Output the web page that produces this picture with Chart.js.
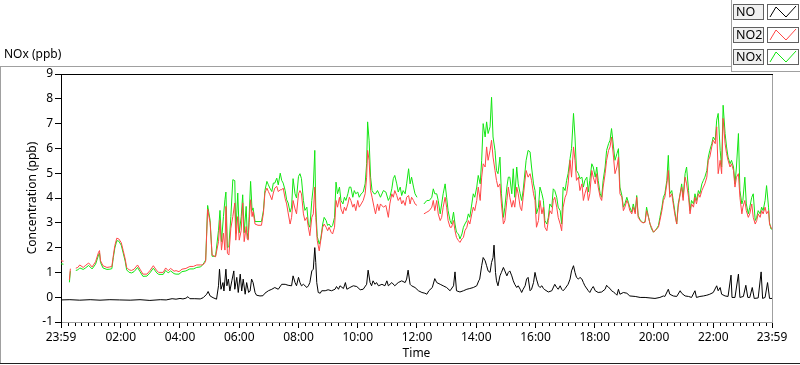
<!DOCTYPE html>
<html><head><meta charset="utf-8">
<script src="https://cdn.jsdelivr.net/npm/chart.js@4.4.1/dist/chart.umd.min.js"></script>
<style>
html,body{margin:0;padding:0;background:#fff;}
#wrap{position:relative;width:800px;height:365px;overflow:hidden;font-family:'Noto Sans',sans-serif;color:#000;}
#c{position:absolute;left:0;top:0;}
.ln{position:absolute;}
.title{position:absolute;left:4px;top:47px;font-size:12px;line-height:14px;}
.lab{position:absolute;left:733px;width:27px;height:14px;border:1px solid #606060;background:#f0f0f0;font-size:12.5px;line-height:14px;padding-left:2px;}
.smp{position:absolute;left:767px;width:30px;height:14px;border:1px solid #606060;background:#fff;}
.smp svg{display:block;}
</style></head>
<body>
<div id="wrap">
<canvas id="c" width="800" height="365"></canvas>
<div class="title">NOx (ppb)</div>
<div class="ln" style="left:0;top:66px;width:731px;height:1px;background:#a0a0a0"></div>
<div class="ln" style="left:0;top:66px;width:1px;height:297px;background:#a0a0a0"></div>
<div class="ln" style="left:0;top:363px;width:800px;height:1px;background:#202020"></div>
<div class="ln" style="left:731px;top:0;width:1px;height:72px;background:#a0a0a0"></div>
<div class="ln" style="left:731px;top:71px;width:69px;height:1px;background:#a0a0a0"></div>
<div id="legend"></div>
</div>
<script>
// ---- data (minutes after 23:59 start) ----
const timeMin = [0,5,8,17,19,23,30,34,38,45,49,56,63,70,76,78,80,85,93,99,103,106,109,113,117,122,126,130,133,138,143,148,155,160,166,174,180,187,194,198,207,212,217,222,229,233,239,245,253,261,268,275,282,286,290,293,297,302,306,313,319,322,325,329,332,334,337,340,344,348,352,354,358,361,365,368,371,375,377,379,381,384,387,389,393,399,406,410,413,417,420,423,427,430,433,437,440,444,447,450,454,457,460,464,467,470,474,477,481,484,487,491,494,498,501,504,508,511,514,516,519,523,526,530,533,537,540,543,547,550,554,557,560,564,567,571,574,577,581,584,587,591,594,597,601,604,608,612,616,619,621,624,627,630,634,637,641,644,647,653,658,663,666,670,673,676,680,683,687,690,693,697,700,704,707,710,714,717,721,726,735,741,746,751,754,757,761,764,768,771,774,778,781,784,788,791,795,798,801,805,808,812,815,818,822,825,828,832,835,838,842,845,849,852,855,859,862,865,869,872,875,879,882,885,889,892,896,899,903,906,909,913,916,919,923,926,930,933,936,942,946,950,953,957,960,963,967,970,974,977,980,984,987,990,994,997,1000,1004,1007,1011,1014,1017,1021,1024,1027,1031,1034,1038,1041,1044,1048,1051,1055,1058,1061,1065,1068,1071,1075,1078,1082,1085,1088,1092,1095,1098,1102,1105,1109,1112,1115,1119,1122,1126,1129,1132,1136,1139,1142,1146,1149,1152,1156,1159,1163,1166,1169,1173,1176,1179,1183,1186,1190,1193,1196,1200,1203,1206,1210,1213,1217,1220,1223,1227,1230,1233,1237,1240,1243,1247,1250,1254,1257,1260,1264,1267,1271,1274,1277,1281,1284,1287,1291,1294,1298,1301,1304,1308,1311,1314,1318,1321,1325,1328,1331,1335,1338,1341,1345,1348,1351,1355,1358,1362,1365,1368,1372,1375,1379,1381,1385,1388,1392,1395,1399,1402,1406,1409,1412,1416,1419,1422,1426,1429,1433,1435,1438,1440];
const no2Vals = [1.47,1.45,null,0.7,1.15,null,1.17,1.2,1.3,1.2,1.27,1.38,1.22,1.43,1.81,1.88,1.47,1.27,1.2,1.22,1.24,1.68,2.08,2.38,2.35,2.2,1.88,1.54,1.2,1.1,1.08,1.13,1.3,1.13,0.93,0.93,1.07,1.27,1.07,1.0,1.0,1.18,1.07,1.16,1.05,1.07,1.03,1.13,1.16,1.24,1.24,1.3,1.3,1.3,1.35,1.45,3.55,3.0,1.7,1.63,2.24,3.1,1.9,2.58,1.9,3.66,1.77,1.7,2.78,3.25,3.8,2.3,3.25,2.3,2.7,3.8,2.24,2.85,2.37,2.3,3.0,3.93,3.25,3.45,2.95,2.9,2.9,3.4,4.2,4.4,4.26,4.13,3.93,4.2,4.4,4.47,4.26,4.33,4.33,4.4,3.97,3.76,3.4,2.95,3.22,3.9,3.56,3.36,4.17,4.3,4.17,3.36,3.09,3.22,2.82,2.48,3.22,3.36,4.44,3.22,2.28,1.87,2.28,2.82,2.95,2.82,2.68,2.82,2.62,2.55,2.82,3.9,3.63,4.03,3.56,3.36,3.63,3.49,3.76,4.03,3.9,3.63,3.76,3.49,3.9,3.63,3.76,3.9,4.17,4.84,5.92,5.52,4.3,4.03,3.63,3.36,3.76,3.49,3.76,3.63,3.7,3.22,3.76,4.17,4.03,4.3,4.1,3.9,4.03,3.76,3.9,3.7,4.03,4.1,3.76,4.03,3.9,3.76,3.7,null,3.36,3.43,3.49,3.63,3.9,3.49,3.9,3.36,3.09,3.22,3.63,4.03,3.63,3.09,2.82,2.82,3.09,2.68,2.41,2.28,2.21,2.35,2.41,2.68,2.82,3.09,2.95,3.36,3.63,3.49,3.9,4.44,3.9,4.84,5.38,5.25,6.06,5.52,5.92,6.33,5.65,5.11,4.71,4.44,4.57,3.76,2.95,3.09,3.9,4.44,4.03,3.63,3.9,3.63,4.44,4.17,3.63,3.49,4.03,5.11,4.84,4.98,4.71,4.17,3.9,2.82,3.09,3.9,3.36,3.63,2.82,2.68,3.09,3.49,3.36,3.9,4.03,3.63,3.22,2.95,2.68,3.63,4.03,4.17,4.57,5.52,4.84,6.06,5.52,4.71,4.84,4.3,4.57,3.9,4.17,4.44,3.9,4.17,5.11,4.84,4.57,4.98,4.44,4.03,3.9,4.44,4.98,5.52,5.92,6.06,6.46,5.65,4.98,5.25,5.65,4.17,4.03,3.49,3.63,3.9,3.76,3.49,3.36,3.63,3.36,4.03,3.22,3.09,3.02,3.0,3.02,3.49,3.22,2.95,2.82,2.62,2.68,2.75,2.82,3.09,3.49,3.9,4.03,4.57,5.11,4.03,4.17,3.76,3.36,2.95,3.63,4.17,4.44,3.9,4.84,4.57,4.03,3.36,3.76,3.63,4.03,3.76,4.17,4.03,4.3,4.44,4.57,4.84,5.52,5.65,6.06,6.33,6.19,6.87,4.98,5.52,4.98,7.21,6.19,5.79,5.52,5.25,5.38,5.11,4.44,4.84,4.98,4.03,3.36,3.63,3.9,3.49,3.22,3.36,3.76,3.22,2.95,3.09,3.36,3.22,3.49,3.36,3.63,3.36,3.49,2.95,2.82,2.75];
const noxVals = [1.35,1.33,null,0.6,1.05,null,1.08,1.1,1.18,1.12,1.17,1.28,1.14,1.33,1.7,1.78,1.4,1.18,1.12,1.13,1.15,1.6,1.98,2.28,2.26,2.1,1.78,1.45,1.1,1.0,0.98,1.03,1.2,1.03,0.84,0.85,0.98,1.17,0.98,0.92,0.92,1.08,0.98,1.06,0.95,0.93,0.93,1.03,1.06,1.14,1.14,1.2,1.22,1.28,1.4,1.5,3.7,3.1,1.65,1.65,2.7,3.5,2.24,3.25,3.93,4.24,2.0,2.04,3.25,4.74,4.7,2.57,4.2,2.6,3.25,4.13,2.6,3.66,2.6,2.35,3.25,4.67,3.5,3.6,3.05,3.05,3.05,3.5,4.3,4.67,4.53,4.4,4.26,4.6,4.6,4.8,4.53,5.0,4.71,4.6,4.3,3.93,3.8,3.43,3.63,4.78,4.17,4.0,4.87,4.98,4.78,3.9,3.5,3.63,2.95,2.82,3.9,4.44,5.92,3.63,2.45,2.14,2.35,2.95,3.22,3.09,2.89,2.95,2.82,2.89,3.22,4.64,4.17,4.44,3.9,3.76,4.03,3.9,4.17,4.44,4.44,4.03,4.3,4.17,4.24,4.03,4.17,4.24,4.57,5.38,7.07,6.33,4.84,4.3,4.17,4.17,4.3,4.17,4.03,4.3,4.24,3.9,4.03,4.37,4.78,4.91,4.57,4.24,4.44,4.1,4.3,4.17,4.57,5.18,4.57,4.84,4.44,4.17,4.03,null,3.76,3.9,3.9,4.03,4.37,4.17,4.17,3.9,3.36,3.76,4.17,4.57,4.03,3.49,3.09,2.95,3.43,2.95,2.62,2.55,2.35,2.55,2.82,2.95,3.09,3.36,3.22,3.76,4.17,4.03,4.44,4.91,4.57,5.52,7.0,6.46,7.07,6.6,6.87,8.06,6.46,5.92,5.11,4.98,5.65,4.17,3.22,3.63,4.44,4.84,4.84,4.17,5.18,4.03,5.25,4.57,4.17,3.9,4.3,5.52,5.92,5.86,5.25,4.57,4.3,3.36,3.63,4.44,4.17,3.9,3.09,2.95,3.22,3.76,3.63,4.37,4.3,4.03,3.63,3.49,2.95,4.44,4.3,4.71,4.98,5.59,5.99,7.41,6.46,5.11,4.98,4.78,4.84,4.44,4.71,4.84,4.24,4.71,5.38,5.25,4.84,5.25,4.71,4.17,4.03,4.71,5.25,5.92,6.19,6.33,6.8,6.06,5.52,5.79,5.99,4.44,4.1,3.63,3.76,4.03,3.83,3.63,3.43,3.76,3.43,4.1,3.29,3.12,3.05,3.0,3.05,3.63,3.22,2.95,2.75,2.62,2.68,2.75,2.89,3.22,3.63,4.03,4.17,4.71,5.72,4.17,4.3,3.9,3.49,2.95,3.76,4.17,4.57,4.03,4.98,5.25,4.3,3.49,3.9,3.76,4.17,3.9,4.3,4.17,4.57,4.71,4.84,5.11,5.65,5.92,6.19,6.46,6.33,7.14,7.41,5.92,5.25,7.74,6.6,6.06,5.65,5.38,5.52,5.25,4.57,5.25,6.6,4.3,3.76,3.9,4.84,3.76,3.36,3.63,4.03,4.17,3.09,3.22,3.49,3.36,3.63,3.49,3.9,4.5,3.63,3.0,2.75,2.75];
const noTime = [0,18,38,59,79,99,119,140,160,180,201,213,225,233,241,247,253,257,261,271,282,288,295,298,302,308,315,319,321,324,328,330,334,336,339,342,346,350,352,356,359,363,366,369,373,376,380,383,386,389,393,396,403,409,413,420,427,433,440,447,454,460,467,470,474,477,481,484,487,491,498,501,504,508,511,514,516,518,521,525,528,535,541,548,555,558,562,565,572,576,579,585,592,599,606,612,619,622,626,629,632,636,639,643,650,656,660,663,670,676,683,690,697,700,703,707,710,717,724,731,737,741,745,752,757,761,768,774,781,788,795,798,801,808,815,822,828,835,842,846,848,852,855,859,862,865,869,872,875,877,880,882,885,889,892,896,899,903,906,909,913,916,919,923,926,930,933,936,940,943,946,950,953,957,960,963,967,970,974,977,980,987,994,1000,1004,1007,1011,1014,1017,1021,1027,1031,1034,1038,1041,1044,1048,1051,1055,1058,1061,1068,1071,1075,1078,1082,1088,1095,1102,1105,1109,1112,1115,1119,1122,1126,1129,1132,1139,1146,1152,1163,1173,1183,1193,1203,1213,1220,1223,1230,1233,1240,1247,1254,1257,1264,1271,1277,1284,1287,1294,1301,1308,1314,1321,1328,1331,1335,1338,1345,1351,1357,1359,1365,1372,1375,1382,1387,1391,1395,1400,1404,1412,1418,1421,1426,1431,1435,1440];
const noVals = [-0.11,-0.1,-0.12,-0.1,-0.12,-0.1,-0.11,-0.12,-0.1,-0.13,-0.1,-0.11,-0.06,-0.08,-0.05,-0.07,-0.04,0.02,-0.06,-0.06,-0.07,-0.02,0.12,0.23,0.05,-0.02,-0.08,0.46,1.13,0.32,0.59,0.25,1.13,0.46,0.73,0.25,0.66,1.06,0.32,0.8,0.19,0.93,0.25,0.73,0.12,0.59,0.19,0.25,0.73,0.59,0.19,0.08,0.05,0.06,0.16,0.26,0.32,0.39,0.32,0.52,0.52,0.48,0.46,0.86,0.59,0.46,0.8,0.59,0.46,0.52,0.39,0.46,0.59,1.06,1.13,2.0,1.4,0.59,0.19,0.16,0.26,0.26,0.3,0.26,0.32,0.43,0.32,0.46,0.35,0.59,0.32,0.39,0.46,0.43,0.3,0.32,0.52,1.09,0.59,0.46,0.66,0.52,0.59,0.46,0.52,0.46,0.66,0.46,0.59,0.46,0.59,0.66,0.59,0.73,1.09,0.52,0.46,0.39,0.26,0.19,0.16,0.12,0.26,0.39,0.75,0.59,0.52,0.46,0.39,0.26,0.46,1.02,0.26,0.21,0.26,0.32,0.35,0.39,0.46,0.66,0.73,1.27,1.6,1.47,1.27,1.06,1.0,1.4,1.6,2.1,1.0,0.66,0.46,0.86,1.0,1.2,1.06,0.86,1.0,1.06,0.86,0.66,0.52,0.39,0.46,0.32,0.19,0.32,0.46,0.73,0.8,0.26,0.32,0.59,1.0,0.73,0.46,0.39,0.46,0.35,0.3,0.21,0.26,0.52,0.39,0.32,0.46,0.32,0.26,0.35,0.52,0.73,1.06,1.27,1.0,0.8,0.73,0.8,0.73,0.59,0.46,0.26,0.19,0.35,0.43,0.26,0.19,0.21,0.32,0.48,0.39,0.35,0.26,0.21,0.16,0.08,0.32,0.12,0.19,0.16,0.05,0.03,-0.01,-0.01,-0.03,-0.05,-0.01,0.05,0.03,0.32,0.12,0.05,0.03,0.26,0.16,0.05,0.03,-0.01,0.26,-0.01,0.03,0.05,0.08,0.12,0.19,0.46,0.26,0.39,0.12,0.05,0.03,0.89,-0.01,-0.01,0.93,-0.01,0.03,0.48,-0.01,-0.01,0.39,-0.05,-0.03,1.02,-0.05,-0.01,0.59,-0.05,-0.05];
const seriesNames = ['NO','NO2','NOx'];
const seriesColors = ['#000000','#ff4646','#12e612'];
const xMajorTicks = [0,121,241,361,481,601,721,841,961,1081,1201,1321,1440];
const yMin = -1, yMax = 9;

if (timeMin.length!==no2Vals.length || timeMin.length!==noxVals.length || noTime.length!==noVals.length) {
  console.error('length mismatch', timeMin.length, no2Vals.length, noxVals.length, noTime.length, noVals.length);
}

function fmtTime(v){
  const t = (1439 + v) % 1440;
  const h = Math.floor(t/60), m = Math.round(t%60);
  return String(h).padStart(2,'0')+':'+String(m).padStart(2,'0');
}
const minorTicks = [];
for (let i=0;i<xMajorTicks.length-1;i++){
  const a=xMajorTicks[i], b=xMajorTicks[i+1];
  for (let k=1;k<9;k++){
    const v = (i===0) ? b - (9-k)*120/9 : a + k*120/9;
    if (v>0 && v<1440) minorTicks.push(v);
  }
}

// legend (HTML)
const lg = document.getElementById('legend');
const rowsTop = [4,27,49];
seriesNames.forEach((n,i)=>{
  const l=document.createElement('div'); l.className='lab'; l.style.top=rowsTop[i]+'px'; l.textContent=n; lg.appendChild(l);
  const s=document.createElement('div'); s.className='smp'; s.style.top=rowsTop[i]+'px';
  s.innerHTML='<svg width="30" height="14"><polyline points="2,12 8,2 18,12 28,1" fill="none" stroke="'+seriesColors[i]+'" stroke-width="1"/></svg>';
  lg.appendChild(s);
});

const framePlugin = {
  id:'frame',
  afterDraw(chart){
    const {ctx, chartArea:a, scales} = chart;
    ctx.save();
    ctx.lineWidth=1;
    ctx.strokeStyle='#000';
    ctx.beginPath(); ctx.moveTo(a.left, Math.round(a.top)+0.5); ctx.lineTo(a.right+1, Math.round(a.top)+0.5); ctx.stroke();
    ctx.strokeStyle='#a0a0a0';
    ctx.beginPath(); ctx.moveTo(Math.round(a.right)+0.5, a.top+1); ctx.lineTo(Math.round(a.right)+0.5, a.bottom+1); ctx.stroke();
    ctx.strokeStyle='#000';
    const xs = scales.x;
    minorTicks.forEach(v=>{
      const px = Math.round(xs.getPixelForValue(v))+0.5;
      ctx.beginPath(); ctx.moveTo(px, a.bottom+1); ctx.lineTo(px, a.bottom+4); ctx.stroke();
    });
    ctx.restore();
  }
};

Chart.defaults.font.family = "'Noto Sans', sans-serif";
Chart.defaults.font.size = 12;
Chart.defaults.color = '#000';

const mk = (xs, ys) => xs.map((x,i)=>({x:x, y:ys[i]}));
new Chart(document.getElementById('c'), {
  type:'line',
  data:{datasets:[
    {label:seriesNames[0], data:mk(noTime,noVals), borderColor:seriesColors[0]},
    {label:seriesNames[1], data:mk(timeMin,no2Vals), borderColor:seriesColors[1]},
    {label:seriesNames[2], data:mk(timeMin,noxVals), borderColor:seriesColors[2]}
  ]},
  options:{
    responsive:false, animation:false, devicePixelRatio:1,
    events:[],
    layout:{padding:{left:0, top:74, right:28, bottom:0}},
    elements:{point:{radius:0}, line:{borderWidth:1, tension:0}},
    datasets:{line:{spanGaps:false}},
    plugins:{legend:{display:false}, tooltip:{enabled:false}},
    scales:{
      x:{type:'linear', min:0, max:1440,
        afterBuildTicks:(s)=>{ s.ticks = xMajorTicks.map(v=>({value:v})); },
        afterFit:(s)=>{ s.height = 43; },
        ticks:{autoSkip:false, maxRotation:0, minRotation:0, padding:2, callback:(v)=>fmtTime(v)},
        grid:{drawOnChartArea:false, drawTicks:true, tickLength:6, tickColor:'#000'},
        border:{display:true, color:'#a0a0a0', width:1},
        title:{display:true, text:'Time', padding:{top:0,bottom:4}}
      },
      y:{type:'linear', min:yMin, max:yMax,
        afterFit:(s)=>{ s.width = 61; },
        ticks:{stepSize:1, padding:2},
        grid:{drawOnChartArea:false, drawTicks:true, tickLength:6, tickColor:'#000'},
        border:{display:true, color:'#000', width:1},
        title:{display:true, text:'Concentration (ppb)', padding:{top:25,bottom:0}}
      }
    }
  },
  plugins:[framePlugin]
});
</script>
</body></html>
